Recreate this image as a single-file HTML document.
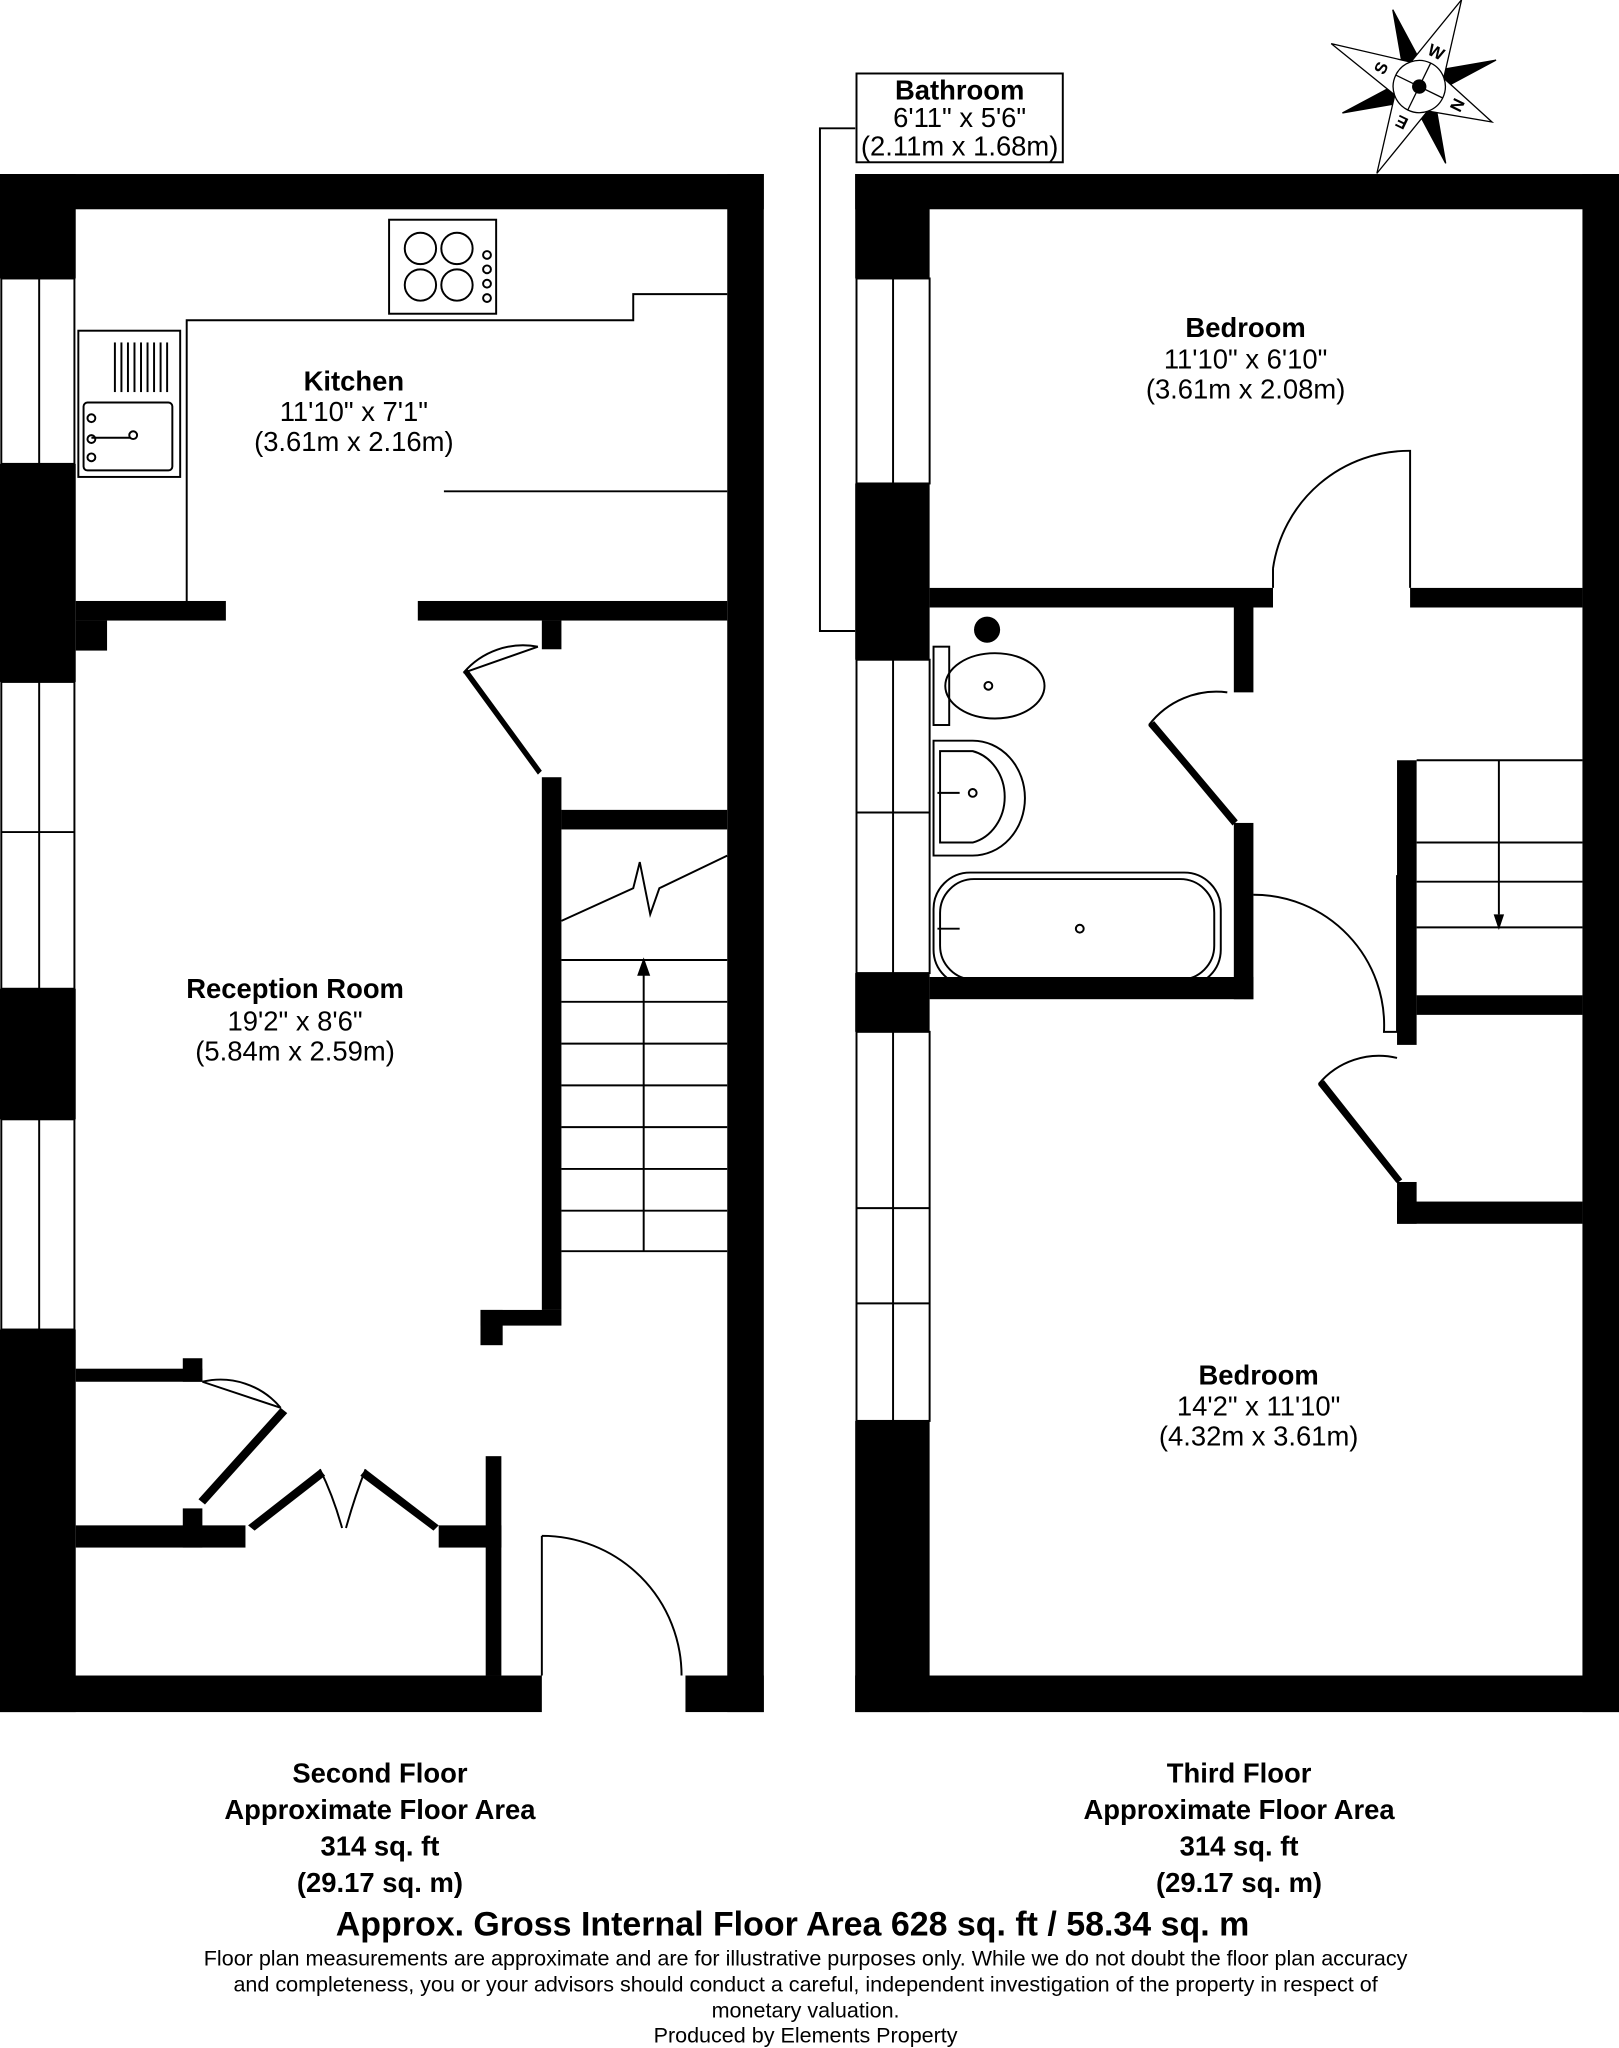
<!DOCTYPE html>
<html><head><meta charset="utf-8"><style>
html,body{margin:0;padding:0;background:#fff}
svg{display:block}
text{font-family:"Liberation Sans",Arial,sans-serif;fill:#000}
</style></head><body>
<svg width="1619" height="2048" viewBox="0 0 1240 1568" xmlns="http://www.w3.org/2000/svg">
<g fill="#000">
<rect x="0" y="133" width="585" height="27"/>
<rect x="557" y="133" width="28" height="1178"/>
<rect x="0" y="1283" width="415" height="28"/>
<rect x="525" y="1283" width="60" height="28"/>
<rect x="0" y="133" width="58" height="80"/>
<rect x="0" y="355" width="58" height="167"/>
<rect x="0" y="757" width="58" height="100"/>
<rect x="0" y="1018" width="58" height="293"/>
<rect x="58" y="460" width="115" height="15"/>
<rect x="320" y="460" width="237" height="15"/>
<rect x="58" y="475" width="24" height="23"/>
<rect x="415" y="475" width="15" height="22"/>
<rect x="415" y="595" width="15" height="408"/>
<rect x="430" y="620" width="127" height="15"/>
<rect x="368" y="1003" width="62" height="12"/>
<rect x="368" y="1003" width="17" height="27"/>
<rect x="372" y="1115" width="12" height="168"/>
<rect x="58" y="1048" width="97" height="10"/>
<rect x="140" y="1040" width="15" height="18"/>
<rect x="58" y="1168" width="130" height="17"/>
<rect x="140" y="1155" width="15" height="30"/>
<rect x="336" y="1168" width="48" height="17"/>
<rect x="655" y="133" width="585" height="27"/>
<rect x="1212" y="133" width="28" height="1178"/>
<rect x="655" y="1283" width="585" height="28"/>
<rect x="655" y="133" width="57" height="80"/>
<rect x="655" y="370" width="57" height="135"/>
<rect x="655" y="745" width="57" height="45"/>
<rect x="655" y="1088" width="57" height="223"/>
<rect x="712" y="450" width="263" height="15"/>
<rect x="1080" y="450" width="132" height="15"/>
<rect x="945" y="465" width="15" height="65"/>
<rect x="945" y="630" width="15" height="135"/>
<rect x="712" y="748" width="248" height="17"/>
<rect x="1070" y="582" width="15" height="218"/>
<rect x="1085" y="762" width="127" height="15"/>
<rect x="1070" y="920" width="142" height="17"/>
<rect x="1070" y="905" width="15" height="32"/>
<circle cx="756" cy="482" r="10"/>
</g>
<g fill="none" stroke="#000" stroke-width="1.5">
<rect x="1" y="213" width="56" height="142"/><line x1="30" y1="213" x2="30" y2="355"/>
<rect x="1" y="522" width="56" height="235"/><line x1="30" y1="522" x2="30" y2="757"/><line x1="1" y1="637" x2="57" y2="637"/>
<rect x="1" y="857" width="56" height="161"/><line x1="30" y1="857" x2="30" y2="1018"/>
<rect x="656" y="213" width="56" height="157"/><line x1="684" y1="213" x2="684" y2="370"/>
<rect x="656" y="505" width="56" height="240"/><line x1="684" y1="505" x2="684" y2="745"/><line x1="656" y1="622" x2="712" y2="622"/>
<rect x="656" y="790" width="56" height="298"/><line x1="684" y1="790" x2="684" y2="1088"/><line x1="656" y1="925" x2="712" y2="925"/><line x1="656" y1="998" x2="712" y2="998"/>
<polyline points="143,460 143,245 485,245 485,225 557,225"/>
<line x1="340" y1="376" x2="557" y2="376"/>
<rect x="298" y="168" width="82" height="72"/>
<circle cx="322" cy="190" r="12"/><circle cx="350" cy="190" r="12"/>
<circle cx="322" cy="218" r="12"/><circle cx="350" cy="218" r="12"/>
<circle cx="373" cy="195" r="3"/><circle cx="373" cy="206" r="3"/><circle cx="373" cy="217" r="3"/><circle cx="373" cy="228" r="3"/>
<rect x="60" y="253" width="78" height="112"/>
<rect x="64" y="308" width="68" height="52" rx="3"/>
<line x1="70" y1="335" x2="100" y2="335"/><circle cx="102" cy="333" r="3"/>
<line x1="88" y1="262" x2="88" y2="300"/><line x1="93" y1="262" x2="93" y2="300"/><line x1="98" y1="262" x2="98" y2="300"/><line x1="103" y1="262" x2="103" y2="300"/><line x1="108" y1="262" x2="108" y2="300"/><line x1="113" y1="262" x2="113" y2="300"/><line x1="118" y1="262" x2="118" y2="300"/><line x1="123" y1="262" x2="123" y2="300"/><line x1="128" y1="262" x2="128" y2="300"/>
<circle cx="70" cy="320" r="3"/><circle cx="70" cy="336" r="3"/><circle cx="70" cy="350" r="3"/>
<polyline points="430,705 485,680 490,660 498,700 505,680 557,655"/>
<line x1="430" y1="735" x2="557" y2="735"/>
<line x1="430" y1="767" x2="557" y2="767"/>
<line x1="430" y1="799" x2="557" y2="799"/>
<line x1="430" y1="831" x2="557" y2="831"/>
<line x1="430" y1="863" x2="557" y2="863"/>
<line x1="430" y1="895" x2="557" y2="895"/>
<line x1="430" y1="927" x2="557" y2="927"/>
<line x1="430" y1="958" x2="557" y2="958"/>
<line x1="493" y1="745" x2="493" y2="958"/>
<path d="M355,515 L412,495 M355,515 A60,60 0 0 1 412,495"/>
<path d="M415,1176 L415,1283 M415,1176 A107,107 0 0 1 522,1283"/>
<path d="M155,1058 L215,1078 M155,1058 A60,60 0 0 1 215,1078"/>
<path d="M245,1125 Q255,1145 262,1170 M280,1125 Q272,1145 265,1170"/>
<rect x="715" y="668" width="220" height="87" rx="28"/>
<rect x="720" y="673" width="210" height="77" rx="26"/>
<circle cx="827" cy="711" r="3"/><line x1="718" y1="711" x2="735" y2="711"/>
<path d="M715,567 L745,567 A40,44 0 0 1 745,655 L715,655 Z"/>
<path d="M720,575 L745,575 A32,36 0 0 1 745,645 L720,645 Z"/>
<circle cx="745" cy="607" r="3"/><line x1="718" y1="607" x2="735" y2="607"/>
<rect x="715" y="495" width="12" height="60"/>
<ellipse cx="762" cy="525" rx="38" ry="25"/>
<circle cx="757" cy="525" r="3"/>
<path d="M975,450 L975,435 M975,435 A105,105 0 0 1 1080,345 L1080,450"/>
<path d="M880,555 L945,630 M880,555 A65,65 0 0 1 940,530"/>
<path d="M960,685 A100,100 0 0 1 1060,790 L1070,790 L1070,670"/>
<path d="M1010,830 L1070,905 M1010,830 A60,60 0 0 1 1070,810"/>
<line x1="1085" y1="645" x2="1212" y2="645"/>
<line x1="1085" y1="675" x2="1212" y2="675"/>
<line x1="1085" y1="710" x2="1212" y2="710"/>
<line x1="1148" y1="582" x2="1148" y2="700"/>
<line x1="1085" y1="582" x2="1212" y2="582"/>
<polyline points="655,98 628,98 628,483 655,483"/>
<rect x="656" y="56" width="158" height="68"/>
</g>
<polygon points="488,747 498,747 493,733" fill="#000"/>
<polygon points="1144,700 1152,700 1148,712" fill="#000"/>
<polygon points="355,515 358,512 415,590 412,593" fill="#000"/>
<polygon points="152,1148 215,1078 220,1082 157,1152" fill="#000"/>
<polygon points="190,1168 245,1125 249,1130 195,1172" fill="#000"/>
<polygon points="280,1125 336,1168 332,1172 276,1130" fill="#000"/>
<polygon points="880,555 884,552 948,628 944,632" fill="#000"/>
<polygon points="1010,830 1014,827 1074,903 1070,906" fill="#000"/>
<g transform="translate(1087,66) rotate(26)" stroke="#000" stroke-width="1">
<g fill="#000">
<polygon points="-8,-18 -44,-44 -18,-8"/>
<polygon points="8,-18 44,-44 18,-8"/>
<polygon points="8,18 44,44 18,8"/>
<polygon points="-8,18 -44,44 -18,8"/>
</g>
<g fill="#fff">
<polygon points="0,-74 14,-14 0,0 -14,-14"/>
<polygon points="0,74 14,14 0,0 -14,14"/>
<polygon points="-75,0 -14,-14 0,0 -14,14"/>
<polygon points="62,0 14,-14 0,0 14,14"/>
</g>
<circle cx="0" cy="0" r="20" fill="#fff"/>
<line x1="-20" y1="0" x2="20" y2="0"/><line x1="0" y1="-20" x2="0" y2="20"/>
<circle cx="0" cy="0" r="5" fill="#000"/>
<g stroke="none" font-size="13" font-weight="bold" text-anchor="middle">
<text x="0" y="-25">W</text>
<text x="33" y="5" transform="rotate(90 33 0)">N</text>
<text x="0" y="36" transform="rotate(180 0 31)">E</text>
<text x="-33" y="5" transform="rotate(-90 -33 0)">S</text>
</g>
</g>
<g text-anchor="middle" font-size="21">
<text x="735" y="76" font-weight="bold">Bathroom</text>
<text x="735" y="97">6'11" x 5'6"</text>
<text x="735" y="119">(2.11m x 1.68m)</text>
<text x="271" y="299" font-weight="bold">Kitchen</text>
<text x="271" y="322">11'10" x 7'1"</text>
<text x="271" y="345">(3.61m x 2.16m)</text>
<text x="226" y="764" font-weight="bold">Reception Room</text>
<text x="226" y="789">19'2" x 8'6"</text>
<text x="226" y="812">(5.84m x 2.59m)</text>
<text x="954" y="258" font-weight="bold">Bedroom</text>
<text x="954" y="282">11'10" x 6'10"</text>
<text x="954" y="305">(3.61m x 2.08m)</text>
<text x="964" y="1060" font-weight="bold">Bedroom</text>
<text x="964" y="1084">14'2" x 11'10"</text>
<text x="964" y="1107">(4.32m x 3.61m)</text>
<g font-weight="bold" font-size="21">
<text x="291" y="1365">Second Floor</text>
<text x="291" y="1393">Approximate Floor Area</text>
<text x="291" y="1421">314 sq. ft</text>
<text x="291" y="1449">(29.17 sq. m)</text>
<text x="949" y="1365">Third Floor</text>
<text x="949" y="1393">Approximate Floor Area</text>
<text x="949" y="1421">314 sq. ft</text>
<text x="949" y="1449">(29.17 sq. m)</text>
</g>
<text x="607" y="1482" font-weight="bold" font-size="26">Approx. Gross Internal Floor Area 628 sq. ft / 58.34 sq. m</text>
<g font-size="16.5">
<text x="617" y="1505">Floor plan measurements are approximate and are for illustrative purposes only. While we do not doubt the floor plan accuracy</text>
<text x="617" y="1525">and completeness, you or your advisors should conduct a careful, independent investigation of the property in respect of</text>
<text x="617" y="1545">monetary valuation.</text>
<text x="617" y="1564">Produced by Elements Property</text>
</g>
</g>
</svg>
</body></html>
